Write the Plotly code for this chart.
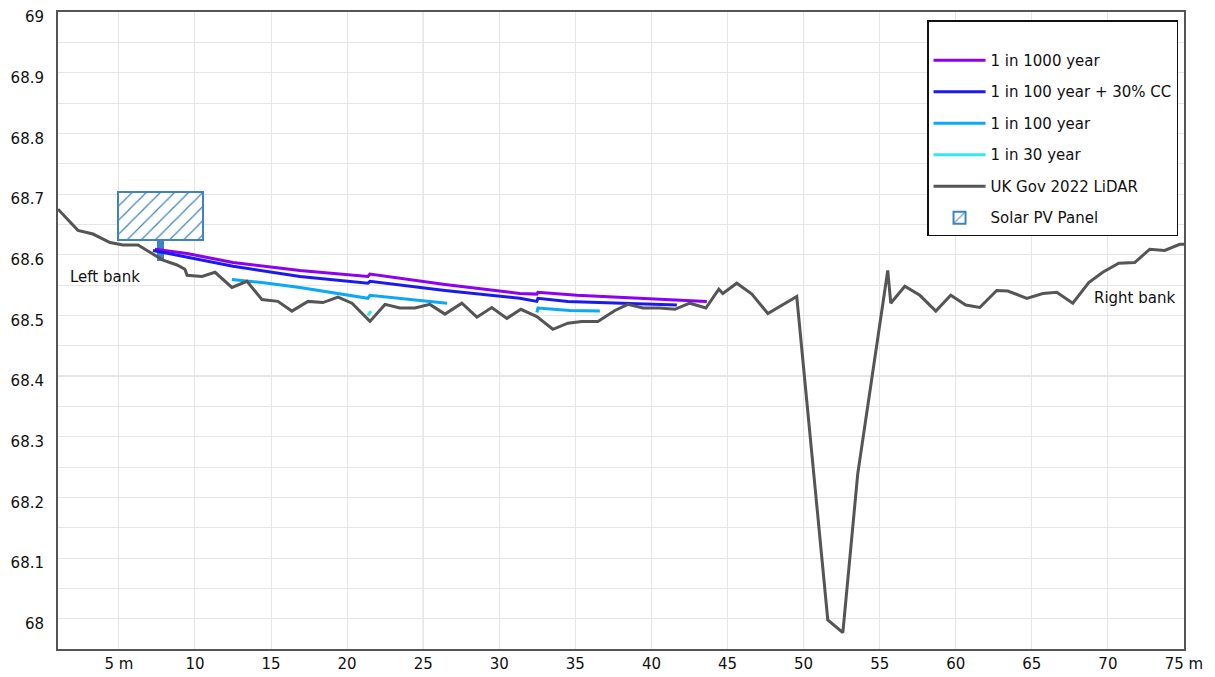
import plotly.graph_objects as go

# ---------------- data ----------------
lidar_x = [1.00, 2.31, 3.30, 4.42, 5.27, 6.26, 7.04, 7.90, 8.82, 9.34, 9.48, 10.46, 11.32, 12.43,
           13.42, 14.40, 15.45, 16.37, 17.43, 18.41, 19.40, 20.32, 21.50, 22.49, 23.47, 24.46,
           25.44, 26.43, 27.54, 28.53, 29.51, 30.50, 31.42, 32.47, 33.52, 34.51, 35.43, 36.48,
           37.60, 38.45, 39.44, 40.55, 41.54, 42.52, 43.58, 44.43, 44.69, 45.61, 46.60, 47.65,
           49.55, 51.59, 52.58, 53.56, 55.53, 55.73, 56.65, 57.64, 58.69, 59.67, 60.66, 61.58,
           62.69, 63.42, 64.67, 65.72, 66.64, 67.69, 68.74, 69.66, 70.71, 71.76, 72.75, 73.73,
           74.72, 75.00]
lidar_y = [68.675, 68.640, 68.634, 68.620, 68.616, 68.616, 68.604, 68.591, 68.583, 68.576, 68.566,
           68.564, 68.571, 68.546, 68.556, 68.526, 68.523, 68.507, 68.523, 68.521, 68.530, 68.520,
           68.490, 68.518, 68.512, 68.512, 68.518, 68.502, 68.520, 68.497, 68.513, 68.495, 68.510,
           68.498, 68.477, 68.487, 68.490, 68.490, 68.508, 68.518, 68.512, 68.512, 68.510, 68.520,
           68.512, 68.543, 68.536, 68.553, 68.535, 68.503, 68.531, 67.998, 67.977, 68.239, 68.574,
           68.520, 68.548, 68.533, 68.507, 68.533, 68.517, 68.513, 68.541, 68.540, 68.528, 68.536,
           68.538, 68.520, 68.554, 68.571, 68.586, 68.587, 68.609, 68.607, 68.617, 68.617]

y1000_x = [7.37, 9.48, 12.50, 16.90, 21.37, 21.50, 26.43, 31.35, 32.47, 32.54, 35.10, 39.24, 43.64]
y1000_y = [68.609, 68.602, 68.587, 68.574, 68.564, 68.568, 68.551, 68.536, 68.535, 68.538,
           68.533, 68.528, 68.523]

y100cc_x = [7.24, 9.48, 12.50, 16.90, 21.37, 21.50, 26.43, 31.35, 32.47, 32.54, 34.51, 41.67]
y100cc_y = [68.607, 68.596, 68.581, 68.564, 68.553, 68.556, 68.541, 68.528, 68.523, 68.528,
            68.523, 68.517]

y100_x = [12.43, 14.40, 16.90, 21.37, 21.50, 26.56, None, 32.47, 32.54, 34.64, 36.61]
y100_y = [68.559, 68.554, 68.546, 68.528, 68.533, 68.520, None, 68.505, 68.512, 68.508, 68.507]

y30_x = [21.37, 21.57]
y30_y = [68.500, 68.507]

panel_x = [4.97, 10.52]      # solar panel extent (m)
panel_y = [68.625, 68.703]   # solar panel bottom / top (m AOD)
post_x = [7.50, 7.96]
post_y = [68.590, 68.625]

x_ticks = [5, 10, 15, 20, 25, 30, 35, 40, 45, 50, 55, 60, 65, 70, 75]
x_labels = ["5 m", "10", "15", "20", "25", "30", "35", "40", "45", "50", "55", "60", "65", "70", "75 m"]
y_ticks = [68.0, 68.1, 68.2, 68.3, 68.4, 68.5, 68.6, 68.7, 68.8, 68.9, 69.0]
y_labels = ["68", "68.1", "68.2", "68.3", "68.4", "68.5", "68.6", "68.7", "68.8", "68.9", "69"]

bank_labels = ["Left bank", "Right bank"]
bank_x = [1.66, 74.52]
bank_y = [68.563, 68.528]

# ---------------- figure ----------------
FONT = "DejaVu Sans"
fig = go.Figure()

panel_col = "#3f82c0"
fig.add_trace(go.Bar(
    x=[(panel_x[0] + panel_x[1]) / 2], y=[panel_y[1] - panel_y[0]], base=[panel_y[0]],
    width=[panel_x[1] - panel_x[0]], name="Solar PV Panel", legendgroup="g6", legendrank=6,
    marker=dict(color=panel_col, line=dict(color=panel_col, width=2),
                pattern=dict(shape="/", fgcolor=panel_col, bgcolor="white", size=10, solidity=0.12,
                             fillmode="replace")),
    hoverinfo="skip"))
fig.add_trace(go.Bar(
    x=[(post_x[0] + post_x[1]) / 2], y=[post_y[1] - post_y[0]], base=[post_y[0]],
    width=[post_x[1] - post_x[0]], showlegend=False,
    marker=dict(color=panel_col, line=dict(width=0)), hoverinfo="skip"))

fig.add_trace(go.Scatter(x=y1000_x, y=y1000_y, mode="lines", name="1 in 1000 year",
                         line=dict(color="#8c00f5", width=3), legendgroup="g1", legendrank=1))
fig.add_trace(go.Scatter(x=y100cc_x, y=y100cc_y, mode="lines", name="1 in 100 year + 30% CC",
                         line=dict(color="#1a1af0", width=3), legendgroup="g2", legendrank=2))
fig.add_trace(go.Scatter(x=y100_x, y=y100_y, mode="lines", name="1 in 100 year",
                         line=dict(color="#0aa8f8", width=3), legendgroup="g3", legendrank=3))
fig.add_trace(go.Scatter(x=y30_x, y=y30_y, mode="lines", name="1 in 30 year",
                         line=dict(color="#2ee8f2", width=3), legendgroup="g4", legendrank=4))
fig.add_trace(go.Scatter(x=lidar_x, y=lidar_y, mode="lines", name="UK Gov 2022 LiDAR",
                         line=dict(color="#555555", width=3), legendgroup="g5", legendrank=5))

for t, xx, yy, anc in zip(bank_labels, bank_x, bank_y, ["left", "right"]):
    fig.add_annotation(x=xx, y=yy, text=t, showarrow=False, xanchor=anc, yanchor="middle",
                       font=dict(family=FONT, size=15, color="#111111"))

# darker major gridlines
for gx in [25, 50]:
    fig.add_shape(type="line", xref="x", yref="paper", x0=gx, x1=gx, y0=0, y1=1,
                  line=dict(color="#c4c4c4", width=1), layer="below")
fig.add_shape(type="line", xref="paper", yref="y", x0=0, x1=1, y0=68.4, y1=68.4,
              line=dict(color="#cfcfcf", width=1), layer="below")

# the page body adds an 8 px offset, compensated in the margins
fig.update_layout(
    width=1215, height=677,
    margin=dict(l=50, r=39, t=4, b=36, autoexpand=False),
    plot_bgcolor="white", paper_bgcolor="white",
    barmode="overlay", bargap=0,
    font=dict(family=FONT, size=15, color="#111111"),
    legend=dict(x=0.9947, y=0.987, xanchor="right", yanchor="top",
                bgcolor="white", bordercolor="#111111", borderwidth=1.5,
                font=dict(family=FONT, size=15, color="#111111"),
                tracegroupgap=9, itemwidth=52,
                title=dict(text=" ", font=dict(size=17))),
    showlegend=True,
)
fig.update_xaxes(range=[1, 75], tickmode="array", tickvals=x_ticks, ticktext=x_labels,
                 automargin=False,
                 showgrid=True, gridcolor="#e6e6e6", gridwidth=1, zeroline=False,
                 showline=True, linecolor="#555555", linewidth=2, mirror=True,
                 ticks="", tickfont=dict(family=FONT, size=15, color="#111111"))
fig.update_yaxes(range=[67.95, 69], tickmode="array", tickvals=y_ticks, ticktext=y_labels,
                 automargin=False,
                 showgrid=True, gridcolor="#e6e6e6", gridwidth=1, zeroline=False,
                 minor=dict(dtick=0.05, tick0=68, showgrid=True, gridcolor="#e6e6e6", gridwidth=1),
                 showline=True, linecolor="#555555", linewidth=2, mirror=True,
                 ticks="", ticklabelstandoff=9, ticklabelshift=5,
                 tickfont=dict(family=FONT, size=15, color="#111111"))

fig.write_html("out.html")
